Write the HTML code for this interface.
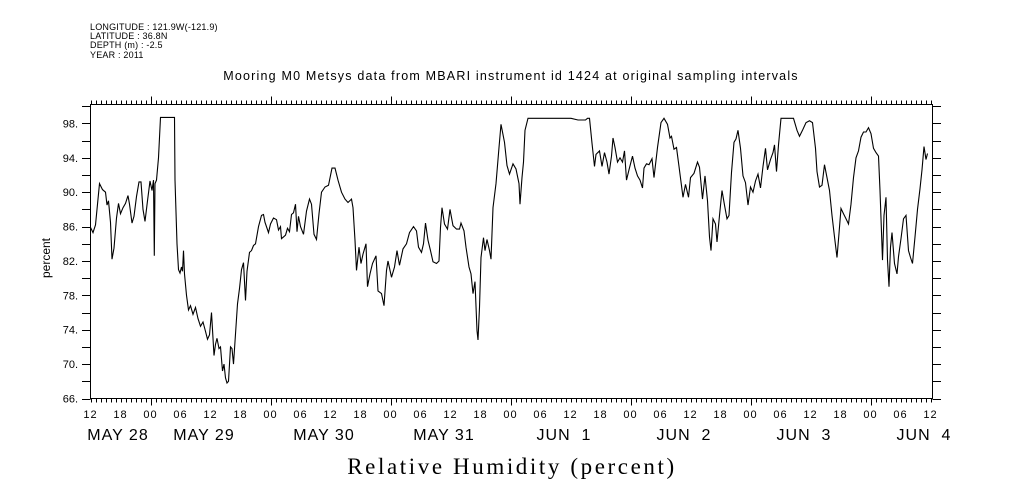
<!DOCTYPE html>
<html><head><meta charset="utf-8"><style>
html,body{margin:0;padding:0;background:#fff;}
svg{display:block;font-family:"Liberation Sans",sans-serif;}
.pre{white-space:pre;}
</style></head><body>
<svg id="chart" width="1009" height="504" viewBox="0 0 1009 504" xmlns="http://www.w3.org/2000/svg">
<g font-size="9" fill="#000" letter-spacing="0.2">
<text x="90" y="30">LONGITUDE : 121.9W(-121.9)</text>
<text x="90" y="39">LATITUDE : 36.8N</text>
<text x="90" y="48">DEPTH (m) : -2.5</text>
<text x="90" y="58">YEAR : 2011</text>
</g>
<text x="511" y="80" font-size="12.5" letter-spacing="1.2" text-anchor="middle">Mooring M0 Metsys data from MBARI instrument id 1424 at original sampling intervals</text>
<text transform="translate(50,258) rotate(-90)" font-size="12" text-anchor="middle">percent</text>
<text x="512" y="474" font-family="Liberation Serif,serif" font-size="23" text-anchor="middle" letter-spacing="2.6">Relative Humidity (percent)</text>
<rect x="90.5" y="104.5" width="842" height="294" fill="none" stroke="#000" stroke-width="1"/>
<g id="axes"></g>
<path id="series" fill="none" stroke="#000" stroke-width="1.1"/>
</svg>
<script>
const hours = [0,0.5,1,1.8,2.4,3,3.3,3.6,4.0,4.3,4.7,5.2,5.6,6,6.5,7,7.5,7.8,8.3,8.7,9.2,9.7,10.1,10.5,10.9,11.4,11.9,12.3,12.6,12.75,12.9,13.2,13.6,14.0,16.8,16.9,17.3,17.6,17.9,18.2,18.4,18.6,18.8,19.2,19.6,20,20.5,21,21.5,22,22.5,23,23.4,23.8,24.2,24.4,24.7,25,25.3,25.7,26,26.4,26.7,27,27.3,27.6,28,28.3,28.6,29,29.4,29.8,30.2,30.6,31.0,31.3,31.8,32.2,32.6,33.0,33.6,34.2,34.6,34.9,35.6,36.0,36.6,37.2,37.6,38.0,38.2,38.6,39.0,39.4,39.8,40.2,40.6,41.0,41.3,41.6,42.0,42.6,43.2,43.8,44.2,44.7,45.2,45.7,46.2,46.9,47.6,48.3,48.9,49.5,50.2,50.9,51.5,52.2,52.5,52.9,53.2,53.7,54.1,54.5,55.1,55.4,55.9,56.4,57.1,57.5,58.2,58.7,59.2,59.5,60.2,60.8,61.3,61.8,62.5,63.2,63.8,64.6,65.2,65.6,66.2,66.6,67.0,67.5,68.0,68.5,69.2,69.7,70.0,70.3,70.8,71.4,71.9,72.5,73.2,73.8,74.1,74.7,75.1,75.7,76.1,76.5,76.9,77.3,77.5,77.8,78.1,78.6,78.9,79.3,79.8,80.1,80.5,81.1,81.7,82.1,82.8,83.3,83.8,84.5,85.1,85.7,85.9,86.3,86.6,86.9,87.5,96.1,97.5,99.0,99.4,99.8,100.3,100.8,101.1,101.8,102.3,102.8,103.3,103.7,104.2,104.5,104.9,105.4,105.9,106.4,106.8,107.2,107.7,108.4,108.9,109.4,109.9,110.4,110.7,111.2,111.7,112.3,112.7,113.4,114.1,114.7,115.4,115.9,116.2,116.7,117.2,117.7,118.5,119.0,119.6,120.0,120.7,121.4,121.8,122.4,122.9,123.4,123.8,124.1,124.5,125.0,125.3,125.8,126.3,126.8,127.3,127.7,128.2,128.7,129.1,129.5,130.0,130.5,131.0,131.5,132.0,132.5,133.0,133.5,134.0,134.5,135.0,135.4,136.0,136.5,136.8,137.2,137.6,138.1,140.6,141.3,141.8,142.4,143.1,143.8,144.4,145.0,145.3,145.8,146.3,146.8,147.3,147.8,148.3,148.8,149.3,149.7,150.1,150.6,151.1,151.6,152.1,152.6,153.1,153.6,154.1,154.6,155.1,155.6,156.1,156.6,157.1,157.6,157.9,158.4,158.7,159.1,159.4,159.7,160.0,160.3,160.8,161.3,161.6,162.1,162.6,163.1,163.6,164.0,164.4,164.9,165.4,165.9,166.3,166.7,167.1,167.4];
const humidity = [85.9,85.3,86.2,91.0,90.3,90.0,88.5,89.0,86.5,82.2,83.5,87.0,88.7,87.5,88.2,88.7,89.6,88.6,86.4,87.2,89.5,91.2,91.2,88.0,86.6,89.0,91.3,90.2,91.4,82.6,91.0,91.4,94.0,98.7,98.7,91.4,84.0,81.0,80.6,81.3,80.8,83.2,80.5,78.0,76.3,76.8,75.8,76.6,75.3,74.4,74.9,73.8,72.9,73.4,76.0,74.0,71.0,72.3,73.0,71.8,72.0,69.2,70.0,68.4,67.8,68.0,72.0,71.8,70.0,73.5,77.0,78.8,81.0,81.8,77.4,80.8,83.0,83.2,83.8,84.0,86.0,87.3,87.4,86.5,85.3,86.3,87.0,86.8,85.6,86.0,84.6,84.8,85.0,85.8,85.4,87.4,87.6,88.6,85.4,87.2,86.0,85.1,87.8,89.2,88.6,85.1,84.5,87.5,90.0,90.6,90.8,92.8,92.8,91.4,90.0,89.2,88.8,89.2,88.2,84.4,80.9,83.6,81.7,82.8,84.0,79.0,80.5,81.7,82.6,78.5,78.2,76.8,80.9,82.0,80.1,81.3,83.2,81.5,83.4,84.0,85.3,86.0,85.5,83.6,83.0,84.0,86.4,84.4,83.2,81.9,81.7,82.0,85.9,88.2,86.3,85.7,88.0,86.1,85.7,85.7,86.4,85.5,83.6,81.3,80.5,78.2,79.6,73.9,72.8,76.6,82.4,84.7,83.2,84.5,83.2,82.2,88.2,91.0,95.2,97.9,95.8,93.1,92.1,93.3,92.7,91.0,88.6,91.7,93.5,97.2,98.6,98.6,98.4,98.4,98.6,98.6,95.7,93.0,94.4,94.8,93.0,94.6,93.5,92.1,94.2,96.3,95.2,93.5,94.0,93.5,94.8,91.4,92.6,94.2,92.8,91.9,91.4,90.5,92.8,93.3,93.2,93.9,91.7,95.2,98.1,98.6,97.9,96.3,96.5,95.0,95.2,93.0,89.4,90.9,89.4,91.7,92.2,93.5,92.9,89.2,91.9,89.0,84.8,83.2,86.9,86.3,84.2,87.3,90.2,88.5,86.9,87.3,92.3,95.8,96.2,97.2,95.1,91.9,91.1,88.5,90.6,90.0,91.3,92.1,90.5,93.0,95.1,92.6,93.8,94.6,95.5,92.4,95.5,98.6,98.6,97.2,96.5,97.2,98.1,98.3,98.1,95.1,92.4,90.6,90.8,93.2,91.7,90.2,87.3,84.8,82.4,85.2,88.1,87.5,86.9,86.3,88.6,91.7,94.0,94.8,96.4,97.0,97.0,97.5,96.8,95.1,94.6,94.2,90.2,82.1,87.3,89.4,82.1,79.0,83.6,85.3,81.7,80.5,82.5,84.6,86.9,87.3,83.2,82.4,81.7,84.8,88.0,90.4,92.6,95.3,93.8,94.5];
const yTicks = [66,70,74,78,82,86,90,94,98];
const hourLabels = ["12","18","00","06"];
const dayLabels = ["MAY 28","MAY 29","MAY 30","MAY 31","JUN  1","JUN  2","JUN  3","JUN  4"];

const X0=90.5, X1=932.5, Y0=398.5, Y1=104.5, TMAX=168, VMIN=66, VMAX=100.2;
function xs(t){return X0+(t/TMAX)*(X1-2-X0);}
function ys(v){return Y0-(v-VMIN)/(VMAX-VMIN)*(Y0-Y1);}
const NS="http://www.w3.org/2000/svg";
const axes=document.getElementById('axes');
function line(x1,y1,x2,y2,name){const l=document.createElementNS(NS,'line');l.setAttribute('x1',x1);l.setAttribute('y1',y1);l.setAttribute('x2',x2);l.setAttribute('y2',y2);l.setAttribute('stroke','#000');


axes.appendChild(l);}
function txt(x,y,s,size,anchor,name){const t=document.createElementNS(NS,'text');t.setAttribute('x',x);t.setAttribute('y',y);t.setAttribute('font-size',size);t.setAttribute('text-anchor',anchor);t.textContent=s;


axes.appendChild(t);return t;}
for(let v=66;v<=100;v+=2){const y=Math.round(ys(v))+0.5;line(82,y,90.5,y,'y-tick-left');line(932.5,y,941,y,'y-tick-right');}
yTicks.forEach(v=>txt(78,ys(v)+4,v+'.',11,'end','y-tick-label'));
for(let h=0;h<=TMAX;h++){const x=Math.round(xs(h))+0.5;const day=((h+12)%24===0);
line(x,Y1,x,Y1-(day?8:4),'x-tick-top');
line(x,Y0,x,Y0+(day?7:4),'x-tick-bottom');}
for(let h=0,i=0;h<=TMAX;h+=6,i++){const t=txt(xs(h),418,hourLabels[i%4],11,'middle','x-hour-label');t.setAttribute('letter-spacing','1');}
dayLabels.forEach((d,i)=>{const cx=i===0?118:xs(i*24-1.3);const t=txt(cx,440,d,16,'middle','x-date-label');t.setAttribute('class','pre');t.setAttribute('letter-spacing','1');});
let d='';hours.forEach((t,i)=>{d+=(i?'L':'M')+xs(t).toFixed(1)+','+ys(humidity[i]).toFixed(1);});
document.getElementById('series').setAttribute('d',d);
</script>
</body></html>
